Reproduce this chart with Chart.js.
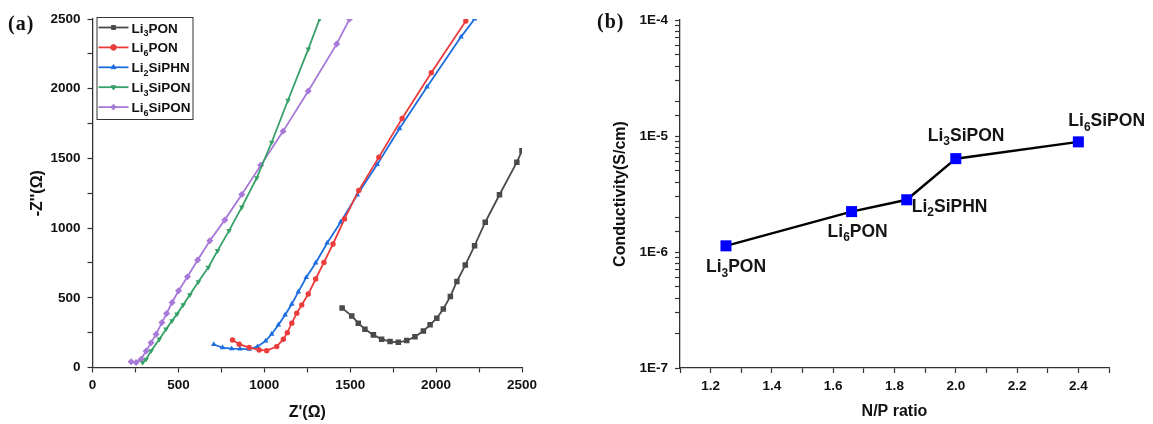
<!DOCTYPE html>
<html>
<head>
<meta charset="utf-8">
<script src="https://cdn.jsdelivr.net/npm/chart.js@4.4.1/dist/chart.umd.min.js"></script>
<style>
  body { margin: 0; background: #fff; }
  #wrap { position: relative; width: 1153px; height: 424px; overflow: hidden; }
  canvas { position: absolute; top: 0; }
  .panel { position: absolute; font: bold 20px "Liberation Serif", "Times New Roman", serif; letter-spacing: 1px; line-height: 20px; color: #111; }
</style>
</head>
<body>
<div id="wrap">
  <canvas id="nyquist" width="560" height="424" style="left:0"></canvas>
  <canvas id="cond" width="578" height="424" style="left:575px"></canvas>
  <div class="panel" style="left:8px;top:13px">(a)</div>
  <div class="panel" style="left:597px;top:11px">(b)</div>
</div>
<script>
// (a) impedance spectra, Z' and -Z'' in ohm
const li3ponRe = [1453, 1509, 1547, 1586, 1635, 1683, 1732, 1780, 1829, 1877, 1926, 1965, 2004, 2042, 2083, 2121, 2170, 2224, 2286, 2369, 2470, 2500];
const li3ponIm = [426, 370, 318, 275, 234, 203, 186, 181, 193, 221, 262, 306, 354, 420, 510, 617, 735, 874, 1042, 1239, 1473, 1555];

const li6ponRe = [815, 854, 912, 970, 1014, 1072, 1111, 1134, 1160, 1189, 1218, 1256, 1299, 1347, 1400, 1467, 1550, 1667, 1802, 1972, 2173];
const li6ponIm = [197, 167, 143, 126, 121, 150, 203, 250, 318, 390, 449, 527, 635, 754, 886, 1066, 1270, 1509, 1786, 2114, 2486];

const li2siphnRe = [706, 757, 810, 859, 912, 960, 1008, 1043, 1082, 1121, 1160, 1198, 1244, 1299, 1366, 1444, 1541, 1657, 1787, 1947, 2145, 2224];
const li2siphnIm = [165, 143, 135, 133, 132, 150, 191, 240, 305, 377, 455, 543, 646, 750, 893, 1042, 1239, 1457, 1714, 2013, 2372, 2500];

const li3siponRe = [292, 312, 341, 389, 428, 463, 492, 528, 567, 616, 674, 728, 795, 869, 956, 1043, 1138, 1256, 1322];
const li3siponIm = [35, 59, 119, 203, 275, 335, 383, 450, 522, 615, 718, 838, 982, 1150, 1360, 1616, 1917, 2284, 2500];

const li6siponRe = [225, 254, 283, 312, 341, 370, 404, 431, 463, 501, 553, 612, 683, 770, 869, 979, 1109, 1256, 1421, 1496];
const li6siponIm = [42, 35, 59, 119, 178, 239, 322, 387, 466, 550, 651, 771, 910, 1059, 1241, 1450, 1694, 1984, 2320, 2500];

const seriesNames = ['Li3PON', 'Li6PON', 'Li2SiPHN', 'Li3SiPON', 'Li6SiPON'];
const zTicks = [0, 500, 1000, 1500, 2000, 2500];

// (b) conductivity vs N/P ratio
const npRatio = [1.25, 1.66, 1.84, 2.0, 2.4];
const conductivity = [1.13e-6, 2.23e-6, 2.82e-6, 6.38e-6, 8.9e-6];
const ratioTicks = ['1.2', '1.4', '1.6', '1.8', '2.0', '2.2', '2.4'];
const condTicks = ['1E-7', '1E-6', '1E-5', '1E-4'];

const FONT = 'Arial, "Liberation Sans", sans-serif';

function pairs(xs, ys) {
    return xs.map((x, i) => ({ x: x, y: ys[i] }));
}

// name like Li3SiPON, the digit is drawn as a subscript
function drawChem(ctx, name, x, y, size) {
    const m = name.match(/^(\D+)(\d)(.*)$/);
    const big = `bold ${size}px ${FONT}`;
    const small = `bold ${Math.round(size * 0.66)}px ${FONT}`;
    ctx.textAlign = 'left';
    ctx.textBaseline = 'alphabetic';
    ctx.font = big;
    ctx.fillText(m[1], x, y);
    let cx = x + ctx.measureText(m[1]).width;
    ctx.font = small;
    ctx.fillText(m[2], cx, y + size * 0.27);
    cx += ctx.measureText(m[2]).width;
    ctx.font = big;
    ctx.fillText(m[3], cx, y);
}

const boxLegend = {
    id: 'boxLegend',
    afterDraw(chart) {
        const ctx = chart.ctx;
        const a = chart.chartArea;
        const x0 = a.left + 4, y0 = a.top - 2, w = 96, h = 102;
        ctx.save();
        ctx.fillStyle = '#fff';
        ctx.fillRect(x0, y0, w, h);
        ctx.strokeStyle = '#333';
        ctx.lineWidth = 1;
        ctx.strokeRect(x0 + 0.5, y0 + 0.5, w, h);
        chart.data.datasets.forEach((ds, i) => {
            const cy = y0 + 10.5 + i * 19.9;
            ctx.strokeStyle = ds.borderColor;
            ctx.fillStyle = ds.borderColor;
            ctx.lineWidth = 1.8;
            ctx.beginPath();
            ctx.moveTo(x0 + 2, cy);
            ctx.lineTo(x0 + 32, cy);
            ctx.stroke();
            ctx.lineWidth = 1;
            Chart.helpers.drawPoint(ctx, {
                pointStyle: ds.pointStyle, radius: 2.8,
                rotation: ds.pointRotation || 0, borderWidth: 1
            }, x0 + 17, cy);
            ctx.fillStyle = '#111';
            drawChem(ctx, ds.label, x0 + 35, cy + 5, 13.5);
        });
        ctx.restore();
    }
};

// label offsets (px) from each point: left edge, baseline
const labelOffsets = [[-20, 26], [-24, 25], [5, 12], [-28, -18], [-10, -16]];

const pointNames = {
    id: 'pointNames',
    afterDatasetsDraw(chart) {
        const ctx = chart.ctx;
        const meta = chart.getDatasetMeta(0);
        ctx.save();
        ctx.fillStyle = '#151515';
        meta.data.forEach((pt, i) => {
            const off = labelOffsets[i];
            drawChem(ctx, seriesNames[i], pt.x + off[0], pt.y + off[1], 17.5);
        });
        ctx.restore();
    }
};

function axisStyle() {
    return {
        grid: { drawOnChartArea: false, tickLength: 5, tickColor: '#333', tickWidth: 1.2 },
        border: { color: '#333', width: 1.3 }
    };
}

const tickFont = { family: FONT, size: 13.5, weight: 'bold' };
const titleFont = { family: FONT, size: 16, weight: 'bold' };

const colors = ['#4a4a4a', '#ec3b3b', '#1c6ee0', '#35a068', '#a779d8'];
const styles = [
    { pointStyle: 'rect', pointRadius: 3.9 },
    { pointStyle: 'circle', pointRadius: 2.7 },
    { pointStyle: 'triangle', pointRadius: 3.2 },
    { pointStyle: 'triangle', pointRadius: 3.2, pointRotation: 180 },
    { pointStyle: 'rectRot', pointRadius: 3.5 }
];
const series = [
    pairs(li3ponRe, li3ponIm),
    pairs(li6ponRe, li6ponIm),
    pairs(li2siphnRe, li2siphnIm),
    pairs(li3siponRe, li3siponIm),
    pairs(li6siponRe, li6siponIm)
];

new Chart(document.getElementById('nyquist'), {
    type: 'line',
    data: {
        datasets: series.map((d, i) => Object.assign({
            label: seriesNames[i],
            data: d,
            borderColor: colors[i],
            backgroundColor: colors[i],
            pointBackgroundColor: colors[i],
            pointBorderColor: colors[i],
            pointBorderWidth: 0,
            borderWidth: 1.8,
            tension: 0
        }, styles[i]))
    },
    options: {
        responsive: false,
        animation: false,
        layout: { padding: { left: 20, right: 38, top: 19, bottom: 0 } },
        plugins: { legend: { display: false }, tooltip: { enabled: false } },
        scales: {
            x: Object.assign(axisStyle(), {
                type: 'linear', min: 0, max: 2500,
                afterFit: s => { s.height = 56.5; },
                ticks: {
                    stepSize: 250, autoSkip: false, maxRotation: 0, padding: 5,
                    color: '#111', font: tickFont,
                    callback: v => zTicks.includes(v) ? String(v) : ''
                },
                title: { display: true, text: "Z'(Ω)", color: '#111', font: titleFont, padding: { top: 0, bottom: 2 } }
            }),
            y: Object.assign(axisStyle(), {
                type: 'linear', min: 0, max: 2500,
                afterFit: s => { s.width = 72.5; },
                ticks: {
                    stepSize: 250, autoSkip: false, padding: 7,
                    color: '#111', font: tickFont,
                    callback: v => zTicks.includes(v) ? String(v) : ''
                },
                title: { display: true, text: "-Z''(Ω)", color: '#111', font: titleFont, padding: { top: 8, bottom: 0 } }
            })
        }
    },
    plugins: [boxLegend]
});

new Chart(document.getElementById('cond'), {
    type: 'line',
    data: {
        datasets: [{
            label: 'Conductivity',
            data: pairs(npRatio, conductivity),
            borderColor: '#000',
            borderWidth: 2.5,
            pointStyle: 'rect',
            pointRadius: 7.8,
            pointBackgroundColor: '#0000ff',
            pointBorderColor: '#0000ff',
            pointBorderWidth: 0,
            tension: 0
        }]
    },
    options: {
        responsive: false,
        animation: false,
        layout: { padding: { left: 20, right: 44, top: 20, bottom: 0 } },
        plugins: { legend: { display: false }, tooltip: { enabled: false } },
        scales: {
            x: Object.assign(axisStyle(), {
                type: 'linear', min: 1.1, max: 2.5,
                afterFit: s => { s.height = 56; },
                ticks: {
                    stepSize: 0.1, autoSkip: false, maxRotation: 0, padding: 5,
                    color: '#111', font: tickFont,
                    callback: v => {
                        const t = v.toFixed(1);
                        return ratioTicks.includes(t) ? t : '';
                    }
                },
                title: { display: true, text: 'N/P ratio', color: '#111', font: titleFont, padding: { top: 0, bottom: 2.5 } }
            }),
            y: Object.assign(axisStyle(), {
                type: 'logarithmic', min: 1e-7, max: 1e-4,
                afterFit: s => { s.width = 85; },
                ticks: {
                    autoSkip: false, padding: 7,
                    color: '#111', font: tickFont,
                    callback: v => {
                        const e = Math.log10(v);
                        const t = '1E' + Math.round(e);
                        return Math.abs(e - Math.round(e)) < 1e-6 && condTicks.includes(t) ? t : '';
                    }
                },
                title: { display: true, text: 'Conductivity(S/cm)', color: '#111', font: titleFont, padding: { top: 16, bottom: 0 } }
            })
        }
    },
    plugins: [pointNames]
});
</script>
</body>
</html>
